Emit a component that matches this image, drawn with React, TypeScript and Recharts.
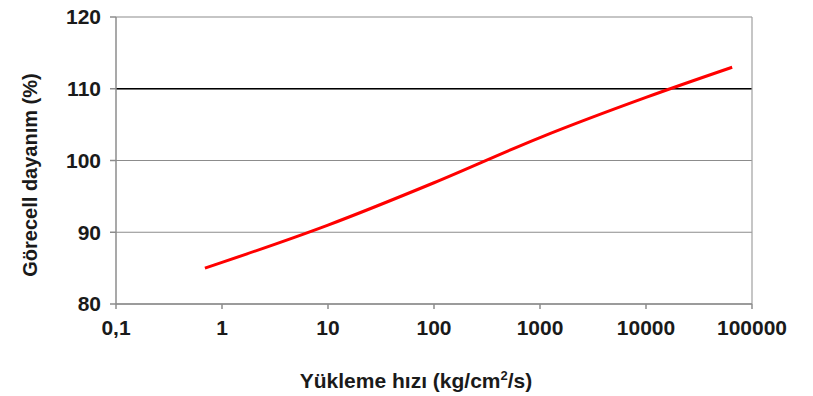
import React from "react";
import {
  LineChart,
  Line,
  XAxis,
  YAxis,
  CartesianGrid,
  ReferenceLine,
} from "recharts";

// loading rate (kg/cm2/s) vs relative strength (%)
const loadingRates = [0.69, 1, 10, 100, 1000, 10000, 65000];
const relativeStrength = [85, 85.8, 91, 96.9, 103.2, 108.8, 113];

const xTicks = [0.1, 1, 10, 100, 1000, 10000, 100000];
const yTicks = [80, 90, 100, 110, 120];

const data = loadingRates.map((rate, i) => ({
  rate,
  strength: relativeStrength[i],
}));

const FONT = "'Liberation Sans', Arial, sans-serif";

const formatRate = (v: number) => (v < 1 ? String(v).replace(".", ",") : String(v));

const App: React.FC = () => {
  return (
    <div style={{ position: "absolute", left: 0, top: 0, width: 813, height: 396, background: "#fff" }}>
      <LineChart
        width={813}
        height={396}
        data={data}
        margin={{ top: 17, right: 61, left: 0, bottom: 0 }}
      >
        <CartesianGrid vertical={false} stroke="#8c8c8c" strokeWidth={1.2} />
        <XAxis
          dataKey="rate"
          type="number"
          scale="log"
          domain={[0.1, 100000]}
          ticks={xTicks}
          allowDataOverflow
          tickFormatter={formatRate}
          height={92}
          stroke="#8c8c8c"
          strokeWidth={1.5}
          tickSize={5}
          tickMargin={11}
          tick={{ fill: "#1a1a1a", fontSize: 21, fontWeight: 700, fontFamily: FONT }}
        />
        <YAxis
          type="number"
          domain={[80, 120]}
          ticks={yTicks}
          width={116}
          stroke="#8c8c8c"
          strokeWidth={1.5}
          tickSize={6}
          tickMargin={9}
          tick={{ fill: "#1a1a1a", fontSize: 21, fontWeight: 700, fontFamily: FONT }}
        />
        <ReferenceLine y={110} stroke="#000" strokeWidth={1.6} />
        <ReferenceLine x={100000} stroke="#a0a0a0" strokeWidth={1.2} />
        <Line
          type="monotone"
          dataKey="strength"
          stroke="#ff0000"
          strokeWidth={3}
          dot={false}
          isAnimationActive={false}
        />
        <text
          x={416}
          y={388}
          textAnchor="middle"
          fontFamily={FONT}
          fontWeight={700}
          fontSize={21}
          fill="#1a1a1a"
        >
          Yükleme hızı (kg/cm
          <tspan dy={-8} fontSize={13}>2</tspan>
          <tspan dy={8}>/s)</tspan>
        </text>
        <text
          x={37}
          y={175}
          transform="rotate(-90 37 175)"
          textAnchor="middle"
          fontFamily={FONT}
          fontWeight={700}
          fontSize={20}
          fill="#1a1a1a"
        >
          Görecell dayanım (%)
        </text>
      </LineChart>
    </div>
  );
};

export default App;
